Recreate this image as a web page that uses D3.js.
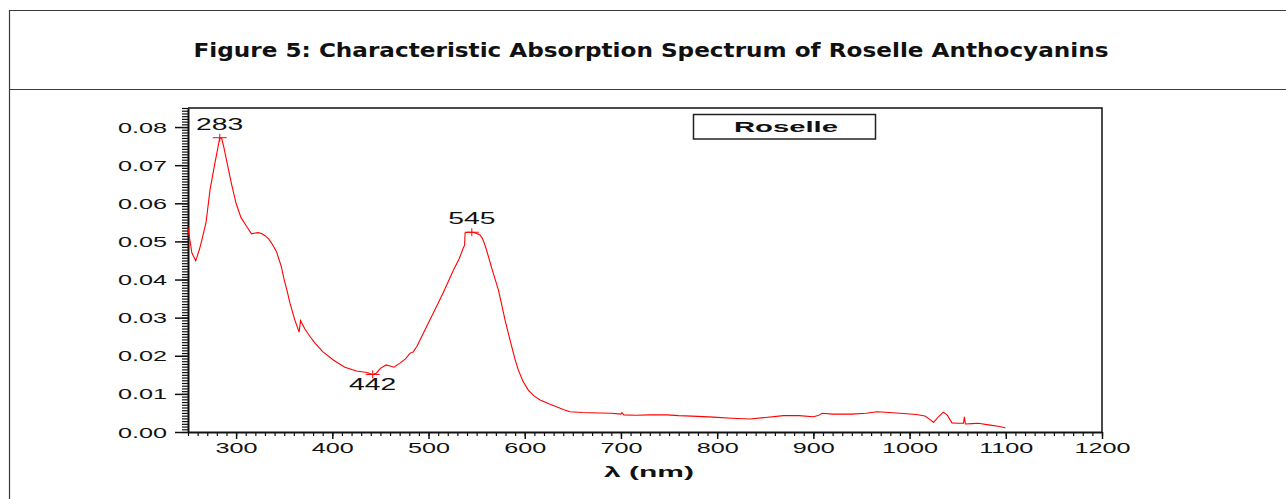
<!DOCTYPE html>
<html>
<head>
	<meta charset="utf-8">
	<title>Roselle Anthocyanins Spectrum</title>
	<style>
		body {
			margin: 0;
			padding: 0;
			background-color: white;
		}
		svg text {
			font-family: Arial, "Liberation Sans", sans-serif;
			fill: #111;
		}
		svg text.title {
			font-family: "DejaVu Sans", Verdana, sans-serif;
			font-weight: bold;
			font-size: 19px;
		}
	</style>
</head>
<body>
	<svg id="chart"></svg>
	<script src="https://d3js.org/d3.v7.min.js"></script>
	<script>
		// spectrum: wavelength (nm) and absorbance
		const wavelength = [
			250, 254, 258, 262, 265, 268.7, 272.9, 278, 281, 283, 285, 287, 290, 295, 300, 305, 311, 316, 320, 323,
			327, 330, 334, 337, 342, 347, 350, 353, 356, 361, 365.5, 367, 371.5, 377, 382, 390, 401, 413, 425, 436,
			442, 446, 450, 456, 460, 464, 470, 476, 481, 484, 488, 494.6, 501, 505, 515, 526, 532, 536, 537.5, 538,
			540, 546, 550, 553.5, 556, 558, 560, 565.7, 572.6, 576, 579.5, 583, 586.5, 590, 593.3, 598, 603.7, 610, 616, 625,
			633, 640, 647, 660, 678, 690, 700, 701, 703, 715, 730, 748, 760, 780, 796, 815, 834, 850, 869, 885,
			900, 905, 909, 920, 940, 955, 966, 975, 990, 1007, 1016, 1020, 1025, 1030, 1035, 1039, 1044, 1050, 1056, 1057,
			1058, 1065, 1071.5, 1083.7, 1092, 1099.5
		];
		const absorbance = [
			0.0535, 0.0470, 0.0449, 0.0480, 0.0510, 0.0549, 0.0635, 0.0706, 0.0745, 0.0772, 0.0770, 0.0750, 0.0714, 0.0653, 0.0600, 0.0563, 0.0539, 0.0520, 0.0522, 0.0523,
			0.0520, 0.0515, 0.0506, 0.0495, 0.0473, 0.0434, 0.0399, 0.0370, 0.0338, 0.0294, 0.0262, 0.0292, 0.0270, 0.0250, 0.0233, 0.0211, 0.0189, 0.0170, 0.0160, 0.0156,
			0.0151, 0.0155, 0.0167, 0.0176, 0.0173, 0.0170, 0.0180, 0.0192, 0.0207, 0.0210, 0.0225, 0.0259, 0.0292, 0.0312, 0.0364, 0.0425, 0.0455, 0.0482, 0.0490, 0.0522,
			0.0524, 0.0524, 0.0521, 0.0517, 0.0508, 0.0495, 0.0480, 0.0430, 0.0373, 0.0335, 0.0294, 0.0258, 0.0224, 0.0190, 0.0163, 0.0134, 0.0110, 0.0094, 0.0084, 0.0074,
			0.0066, 0.0059, 0.0053, 0.0051, 0.0050, 0.0049, 0.0047, 0.0051, 0.0045, 0.0044, 0.0045, 0.0045, 0.0043, 0.0041, 0.0039, 0.0036, 0.0034, 0.0038, 0.0043, 0.0043,
			0.0040, 0.0043, 0.0049, 0.0047, 0.0047, 0.0049, 0.0053, 0.0052, 0.0049, 0.0046, 0.0042, 0.0035, 0.0025, 0.0040, 0.0052, 0.0045, 0.0024, 0.0023, 0.0023, 0.0040,
			0.0021, 0.0022, 0.0023, 0.0018, 0.0015, 0.0011
		];

		// marked peaks / valley and where their label goes
		const peakWl = [283, 442, 545];
		const peakLabels = ['283', '442', '545'];
		const peakAbove = [true, false, true];

		const xTicks = [300, 400, 500, 600, 700, 800, 900, 1000, 1100, 1200];
		const yTicks = [0, 0.01, 0.02, 0.03, 0.04, 0.05, 0.06, 0.07, 0.08];

		const titleText = 'Figure 5: Characteristic Absorption Spectrum of Roselle Anthocyanins';
		const legendText = 'Roselle';
		const xTitle = 'λ (nm)';

		const width = 1286;
		const height = 499;
		const plot = { left: 188, right: 1102, top: 108, bottom: 432 };

		const svg = d3.select('#chart')
			.attr('width', width)
			.attr('height', height);

		// outer table-like frame
		const frame = svg.append('g')
			.attr('stroke', '#3a3a3a')
			.attr('stroke-width', 1.2)
			.attr('fill', 'none');
		frame.append('line').attr('x1', 9.5).attr('x2', width + 5).attr('y1', 10.5).attr('y2', 10.5);
		frame.append('line').attr('x1', 9.5).attr('x2', 9.5).attr('y1', 10).attr('y2', height + 5);
		frame.append('line').attr('x1', 9.5).attr('x2', width + 5).attr('y1', 89.5).attr('y2', 89.5);

		svg.append('text')
			.attr('class', 'title')
			.attr('x', 651)
			.attr('y', 57)
			.attr('text-anchor', 'middle')
			.attr('textLength', 915)
			.attr('lengthAdjust', 'spacingAndGlyphs')
			.text(titleText);

		const x = d3.scaleLinear().domain([250, 1200]).range([plot.left, plot.right]);
		const y = d3.scaleLinear().domain([0, 0.085]).range([plot.bottom, plot.top]);

		// top and right border of the plot
		svg.append('path')
			.attr('d', `M${plot.left},${plot.top}H${plot.right}V${plot.bottom}`)
			.attr('fill', 'none')
			.attr('stroke', '#111')
			.attr('stroke-width', 1.5);

		// minor ticks
		const xMinor = d3.range(250, 1201, 10);
		const yMinor = d3.range(0, 0.0851, 0.01 / 14);

		svg.append('g')
			.attr('transform', `translate(0,${plot.bottom})`)
			.call(d3.axisBottom(x).tickValues(xMinor).tickSize(4).tickSizeOuter(0).tickFormat(''))
			.call(g => g.select('.domain').remove())
			.call(g => g.selectAll('line').attr('stroke', '#111').attr('stroke-width', 1.2));

		svg.append('g')
			.attr('transform', `translate(${plot.left},0)`)
			.call(d3.axisLeft(y).tickValues(yMinor).tickSize(6).tickSizeOuter(0).tickFormat(''))
			.call(g => g.select('.domain').remove())
			.call(g => g.selectAll('line').attr('stroke', '#111').attr('stroke-width', 1.2));

		// major ticks and labels
		const xAxis = svg.append('g')
			.attr('transform', `translate(0,${plot.bottom})`)
			.call(d3.axisBottom(x).tickValues(xTicks).tickSize(7).tickSizeOuter(0).tickFormat(d3.format('d')));
		xAxis.select('.domain').attr('stroke', '#111').attr('stroke-width', 2);
		xAxis.selectAll('line').attr('stroke', '#111').attr('stroke-width', 1.5);
		xAxis.selectAll('text')
			.attr('x', 0).attr('y', 0).attr('dy', 0)
			.attr('font-size', 14)
			.attr('transform', 'translate(0,21) scale(1.8,1)');

		const yAxis = svg.append('g')
			.attr('transform', `translate(${plot.left},0)`)
			.call(d3.axisLeft(y).tickValues(yTicks).tickSize(13).tickSizeOuter(0).tickFormat(d3.format('.2f')));
		yAxis.select('.domain').attr('stroke', '#111').attr('stroke-width', 2);
		yAxis.selectAll('line').attr('stroke', '#111').attr('stroke-width', 1.5);
		yAxis.selectAll('text')
			.attr('x', 0).attr('dy', '0.36em')
			.attr('font-size', 14)
			.attr('transform', 'translate(-21,0) scale(1.8,1)');

		// spectrum line
		const points = wavelength.map((w, i) => [w, absorbance[i]]);
		const line = d3.line()
			.x(d => x(d[0]))
			.y(d => y(d[1]));

		svg.append('path')
			.datum(points)
			.attr('d', line)
			.attr('fill', 'none')
			.attr('stroke', '#ff0000')
			.attr('stroke-width', 1.1);

		// peak markers
		const nearest = w => points.reduce((a, b) => Math.abs(b[0] - w) < Math.abs(a[0] - w) ? b : a);
		peakWl.forEach((w, i) => {
			const p = nearest(w);
			const px = x(w), py = y(p[1]);
			svg.append('path')
				.attr('d', `M${px - 7},${py}H${px + 7}M${px},${py - 4}V${py + 4}`)
				.attr('stroke', '#ff0000')
				.attr('stroke-width', 1);
			svg.append('text')
				.attr('font-size', 16)
				.attr('text-anchor', 'middle')
				.attr('transform', `translate(${px},${peakAbove[i] ? py - 8 : py + 16}) scale(1.77,1)`)
				.text(peakLabels[i]);
		});

		// legend box
		svg.append('rect')
			.attr('x', 693.5)
			.attr('y', 114.5)
			.attr('width', 182)
			.attr('height', 24.5)
			.attr('fill', 'white')
			.attr('stroke', '#222')
			.attr('stroke-width', 1.5);
		svg.append('text')
			.attr('font-size', 15)
			.attr('font-weight', 'bold')
			.attr('text-anchor', 'middle')
			.attr('transform', 'translate(786,132) scale(1.95,1)')
			.text(legendText);

		// x axis title
		svg.append('text')
			.attr('font-size', 15)
			.attr('font-weight', 'bold')
			.attr('text-anchor', 'middle')
			.attr('transform', `translate(${(plot.left + plot.right) / 2 + 4},477) scale(2,1)`)
			.text(xTitle);
	</script>
</body>
</html>
